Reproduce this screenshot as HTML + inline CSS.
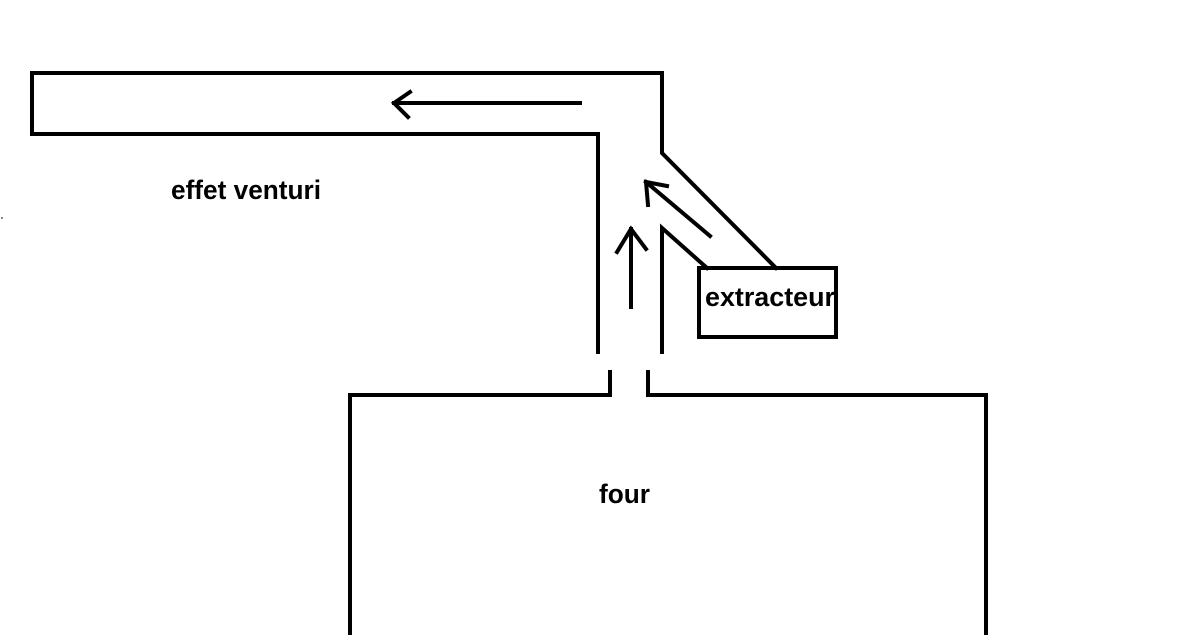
<!DOCTYPE html>
<html><head><meta charset="utf-8"><style>
html,body{margin:0;padding:0;background:#fff;width:1199px;height:635px;overflow:hidden}
text{font-family:"Liberation Sans",Arial,sans-serif;font-weight:bold;fill:#000}
</style></head><body>
<svg width="1199" height="635" viewBox="0 0 1199 635" xmlns="http://www.w3.org/2000/svg">
<g fill="none" stroke="#000" stroke-width="4" stroke-linecap="square">
<polyline points="598,352 598,134 32,134 32,73 662,73 662,153 776,268"/>
<polyline points="662,352 662,228 707,268"/>
<rect x="699" y="268" width="137" height="69"/>
<polyline points="350,635 350,395 610,395 610,372"/>
<polyline points="648,372 648,395 986,395 986,635"/>
<line x1="580" y1="103" x2="394" y2="103"/>
<polyline points="410,92 394,103 408,117"/>
<line x1="631" y1="307" x2="631" y2="229"/>
<polyline points="617,252 631,229 646,249"/>
<line x1="710" y1="236" x2="646" y2="182"/>
<polyline points="648,205 646,182 667,186"/>
</g>
<rect x="1" y="217" width="2" height="2" fill="#888"/>
<text x="171" y="199" font-size="27" textLength="150" lengthAdjust="spacingAndGlyphs">effet venturi</text>
<text x="705" y="306" font-size="27" textLength="130" lengthAdjust="spacingAndGlyphs">extracteur</text>
<text x="599" y="503" font-size="27" textLength="51" lengthAdjust="spacingAndGlyphs">four</text>
</svg>
</body></html>
